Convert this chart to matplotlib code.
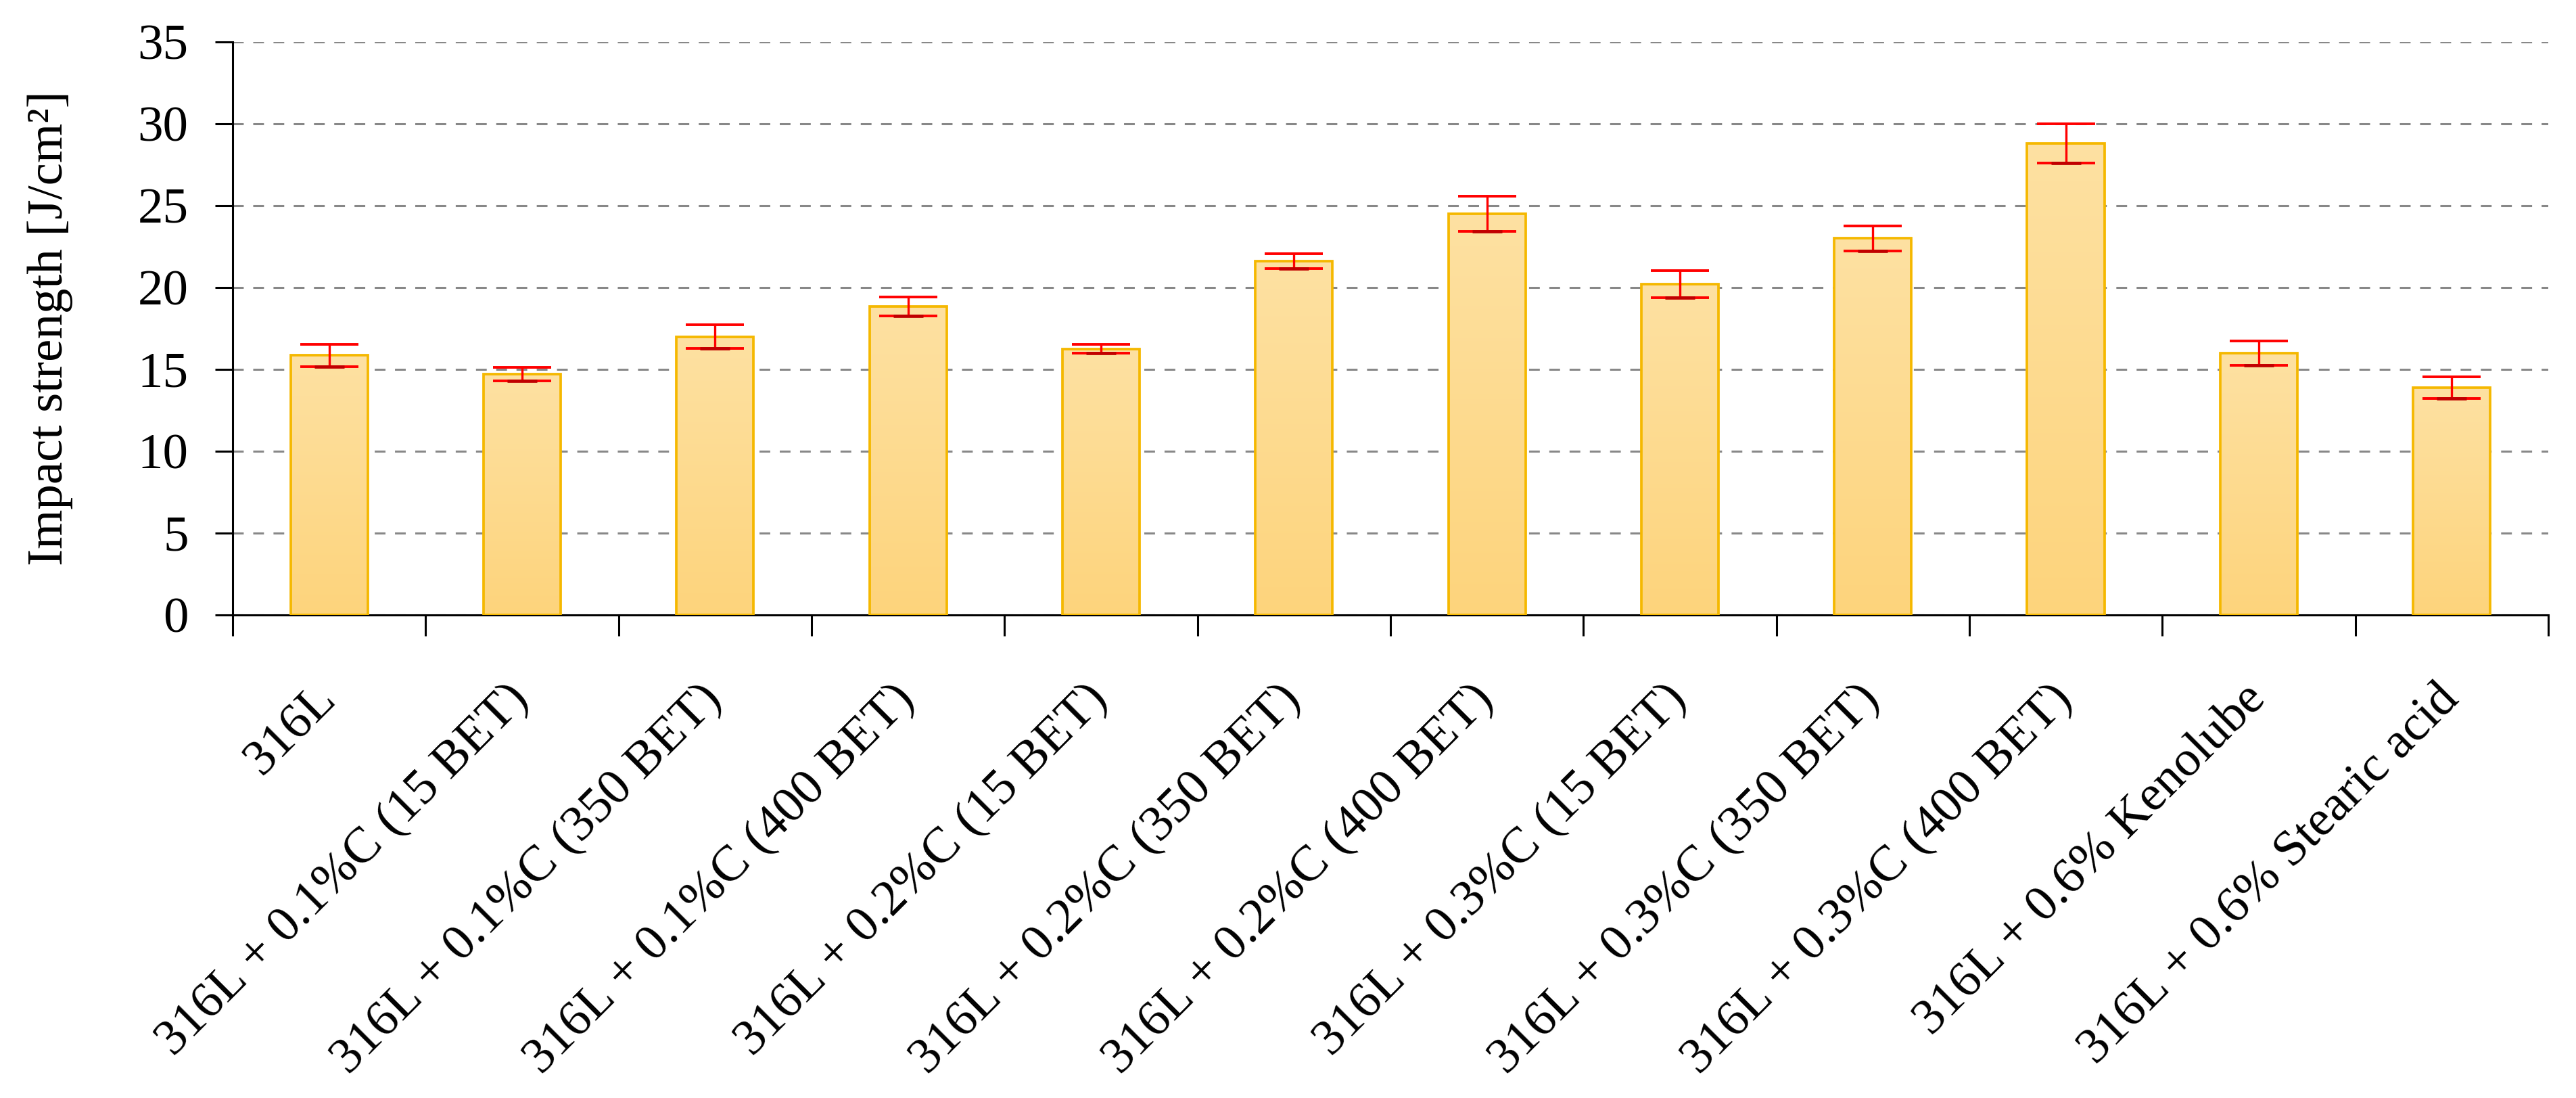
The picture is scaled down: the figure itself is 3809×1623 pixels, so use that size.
import numpy as np
import matplotlib
matplotlib.use("Agg")
import matplotlib.pyplot as plt
from matplotlib.colors import LinearSegmentedColormap

# data
labels = ["316L",
          "316L + 0.1%C (15 BET)",
          "316L + 0.1%C (350 BET)",
          "316L + 0.1%C (400 BET)",
          "316L + 0.2%C (15 BET)",
          "316L + 0.2%C (350 BET)",
          "316L + 0.2%C (400 BET)",
          "316L + 0.3%C (15 BET)",
          "316L + 0.3%C (350 BET)",
          "316L + 0.3%C (400 BET)",
          "316L + 0.6% Kenolube",
          "316L + 0.6% Stearic acid"]
values = [15.85, 14.7, 17.0, 18.85, 16.25, 21.6, 24.5, 20.2, 23.0, 28.8, 16.0, 13.9]
errors = [0.67, 0.42, 0.72, 0.58, 0.26, 0.45, 1.08, 0.83, 0.75, 1.2, 0.75, 0.66]
yticks = [0, 5, 10, 15, 20, 25, 30, 35]

plt.rcParams["font.family"] = ["Liberation Serif", "DejaVu Serif"]

fig = plt.figure(figsize=(38.09, 16.23), dpi=100)
ax = fig.add_axes([0.0903, 0.4399, 0.8989, 0.5219])

x = np.arange(len(values))
bars = ax.bar(x, values, width=0.4, color="#FDDA8E", edgecolor="#F5B800",
              linewidth=2.7, zorder=3)

# soft vertical gradient inside every bar
cmap = LinearSegmentedColormap.from_list("barfill", ["#FDD47C", "#FEE1A2"])
grad = np.linspace(0, 1, 256).reshape(-1, 1)
for b in bars:
    x0, w, h = b.get_x(), b.get_width(), b.get_height()
    im = ax.imshow(grad, cmap=cmap, origin="lower", aspect="auto",
                   extent=[x0, x0 + w, 0, h], zorder=3.5)
    im.set_clip_path(b)
    b.set_facecolor("none")
    b.set_zorder(4)

# error bars: red stem and top cap, darker lower cap
ax.errorbar(x, values, yerr=errors, fmt="none", ecolor="#FF0000",
            elinewidth=2.4, capsize=31, capthick=2.8, zorder=5)
ax.plot(x, np.array(values) - np.array(errors), ls="none", marker="_",
        markersize=31, mew=3.4, color="#C00000", zorder=6)

ax.set_xlim(-0.5, len(values) - 0.5)
ax.set_ylim(0, 35)
ax.set_yticks(yticks)
ax.yaxis.grid(True, color="#888888", linewidth=2.2, linestyle=(0, (5.2, 4.6)))
ax.set_axisbelow(True)

for s in ["top", "right"]:
    ax.spines[s].set_visible(False)
for s in ["left", "bottom"]:
    ax.spines[s].set_linewidth(2.2)

ax.tick_params(axis="y", direction="out", length=19, width=2.2,
               labelsize=54, pad=28)
ax.set_xticks(np.arange(len(values) + 1) - 0.5)
ax.set_xticklabels([])
ax.tick_params(axis="x", which="major", direction="out", length=22, width=2.2)
ax.set_xticks(x, minor=True)
ax.set_xticklabels(labels, minor=True, rotation=45, ha="right", va="center",
                   rotation_mode="anchor", fontsize=54)
ax.tick_params(axis="x", which="minor", length=0, pad=82)

ax.set_ylabel("Impact strength [J/cm²]", fontsize=54)
ax.yaxis.set_label_coords(-0.069, 0.5)

fig.savefig("out.png", dpi=100)
